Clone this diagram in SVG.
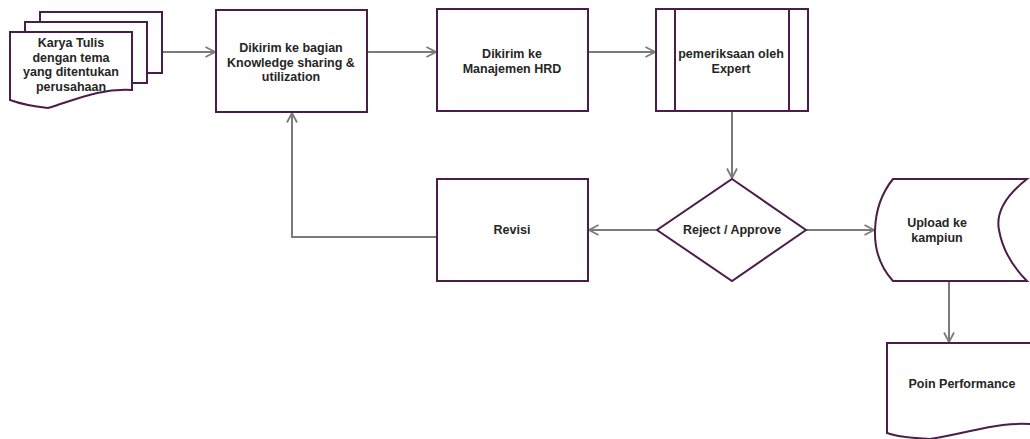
<svg xmlns="http://www.w3.org/2000/svg" width="1030" height="439" viewBox="0 0 1030 439">
<style>
.n{fill:#fff;stroke:#4b1d4b;stroke-width:2}
.t{font-family:"Liberation Sans",Arial,sans-serif;font-size:12.5px;font-weight:bold;fill:#262626;text-anchor:middle}
.c{fill:none;stroke:#7b7b7b;stroke-width:2;marker-end:url(#a)}
</style>
<defs>
<marker id="a" viewBox="0 0 12 12" refX="11" refY="6" markerWidth="12" markerHeight="12" markerUnits="userSpaceOnUse" orient="auto">
<path d="M1.5 1 L11 6 L1.5 11" fill="none" stroke="#7b7b7b" stroke-width="1.8"/>
</marker>
</defs>
<rect width="1030" height="439" fill="#fff"/>
<g id="connectors">
<path class="c" d="M162 52 H215"/>
<path class="c" d="M367 52 H436"/>
<path class="c" d="M588 52 H655"/>
<path class="c" d="M732 111 V178"/>
<path class="c" d="M657 230 H589"/>
<path class="c" d="M437 237 H292 V113"/>
<path class="c" d="M806 230 H874"/>
<path class="c" d="M949 281 V342"/>
</g>
<g id="karya">
<rect class="n" x="40" y="12" width="122" height="61"/>
<rect class="n" x="25" y="22" width="122" height="61"/>
<path class="n" d="M10 32 H132 V90 C100 88 75 100 48 108 C30 106 18 103 10 100 Z"/>
<text class="t" x="71" y="47">Karya Tulis</text>
<text class="t" x="71" y="61.5">dengan tema</text>
<text class="t" x="71" y="76">yang ditentukan</text>
<text class="t" x="71" y="90.5">perusahaan</text>
</g>
<g id="kss">
<rect class="n" x="216" y="10" width="151" height="102"/>
<text class="t" x="291" y="52">Dikirim ke bagian</text>
<text class="t" x="291" y="66.5">Knowledge sharing &amp;</text>
<text class="t" x="291" y="81">utilization</text>
</g>
<g id="hrd">
<rect class="n" x="437" y="9" width="151" height="102"/>
<text class="t" x="512" y="58">Dikirim ke</text>
<text class="t" x="512" y="73">Manajemen HRD</text>
</g>
<g id="expert">
<rect class="n" x="656" y="9" width="152" height="102"/>
<line class="n" x1="675" y1="9" x2="675" y2="111"/>
<line class="n" x1="789" y1="9" x2="789" y2="111"/>
<text class="t" x="731" y="58">pemeriksaan oleh</text>
<text class="t" x="731" y="73">Expert</text>
</g>
<g id="decision">
<path class="n" d="M732 179 L806 230 L732 281 L657 230 Z"/>
<text class="t" x="732" y="234">Reject / Approve</text>
</g>
<g id="revisi">
<rect class="n" x="437" y="179" width="151" height="102"/>
<text class="t" x="512" y="234">Revisi</text>
</g>
<g id="upload">
<path class="n" d="M893 179 H1027 Q994 205 999 230 Q1004 258 1027 281 H893 Q874 260 875 230 Q876 200 893 179 Z"/>
<text class="t" x="937" y="227">Upload ke</text>
<text class="t" x="937" y="241.5">kampiun</text>
</g>
<g id="poin">
<path class="n" d="M887 343 H1040 V425 C1000 420 975 432 930 439 C910 438 895 436 887 433 Z"/>
<text class="t" x="962" y="388">Poin Performance</text>
</g>
</svg>
